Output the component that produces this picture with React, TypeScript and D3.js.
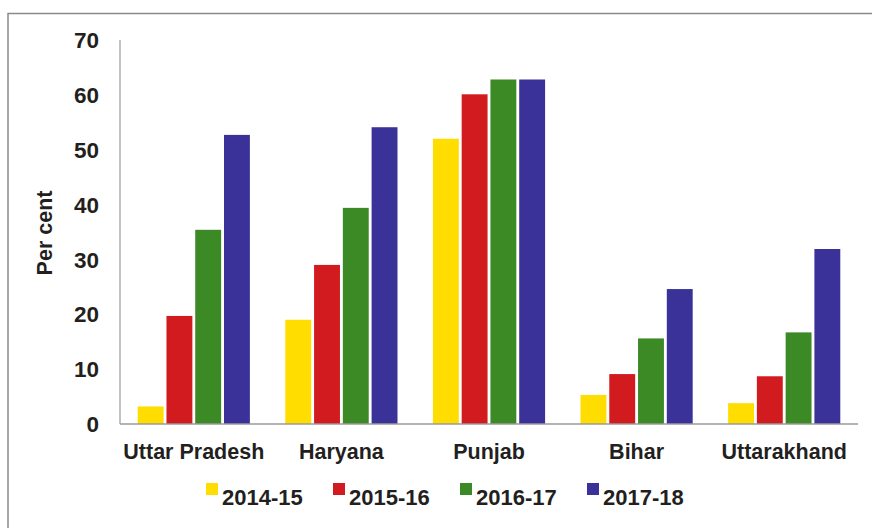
import React, { useEffect, useRef } from 'react';
import * as d3 from 'd3';

const states = ['Uttar Pradesh', 'Haryana', 'Punjab', 'Bihar', 'Uttarakhand'];
const years = ['2014-15', '2015-16', '2016-17', '2017-18'];
const colors = ['#FFDD00', '#D11B1E', '#3B8A26', '#3A3299'];

const v2014 = [3.2, 19.0, 52.0, 5.3, 3.8];
const v2015 = [19.7, 29.0, 60.1, 9.1, 8.7];
const v2016 = [35.4, 39.4, 62.8, 15.6, 16.7];
const v2017 = [52.7, 54.1, 62.8, 24.6, 31.9];
const yTicks = [0, 10, 20, 30, 40, 50, 60, 70];

const W = 872;
const H = 528;
const FONT = '"Liberation Sans", Arial, sans-serif';
const TEXT = '#231f20';

const App: React.FC = () => {
  const svgRef = useRef<SVGSVGElement>(null);

  useEffect(() => {
    if (!svgRef.current) return;
    const svg = d3.select(svgRef.current);
    svg.selectAll('*').remove();

    const series = [v2014, v2015, v2016, v2017];
    const left = 120, right = 858, top = 40, bottom = 424;

    svg.append('rect').attr('width', W).attr('height', H).attr('fill', '#fff');

    // outer frame (top and left edges show)
    svg.append('path')
      .attr('d', `M8,${H} L8,13.5 L${W},13.5`)
      .attr('fill', 'none')
      .attr('stroke', '#8a8a8a')
      .attr('stroke-width', 1.5);

    const y = d3.scaleLinear().domain([0, 70]).range([bottom, top]);
    const x0 = d3.scaleBand<string>().domain(states).range([left, right])
      .paddingInner(0.24).paddingOuter(0.12);
    const x1 = d3.scaleBand<string>().domain(years).range([0, x0.bandwidth()])
      .paddingInner(0.1).paddingOuter(0);

    // bars
    series.forEach((vals, si) => {
      svg.append('g')
        .selectAll('rect')
        .data(vals)
        .enter()
        .append('rect')
        .attr('x', (d, i) => (x0(states[i]) as number) + (x1(years[si]) as number))
        .attr('y', d => y(d))
        .attr('width', x1.bandwidth())
        .attr('height', d => bottom - y(d))
        .attr('fill', colors[si]);
    });

    // axes lines
    svg.append('line')
      .attr('x1', left).attr('x2', left).attr('y1', top).attr('y2', bottom)
      .attr('stroke', '#9a9a9a').attr('stroke-width', 1.2);
    svg.append('line')
      .attr('x1', left).attr('x2', right).attr('y1', bottom).attr('y2', bottom)
      .attr('stroke', '#9a9a9a').attr('stroke-width', 1.5);

    // y tick labels
    svg.append('g')
      .selectAll('text')
      .data(yTicks)
      .enter()
      .append('text')
      .attr('x', 99)
      .attr('y', d => y(d))
      .attr('dy', '0.36em')
      .attr('text-anchor', 'end')
      .attr('font-family', FONT)
      .attr('font-weight', 'bold')
      .attr('font-size', 22.5)
      .attr('fill', TEXT)
      .text(d => d);

    // category labels
    svg.append('g')
      .selectAll('text')
      .data(states)
      .enter()
      .append('text')
      .attr('x', d => (x0(d) as number) + x0.bandwidth() / 2)
      .attr('y', 459)
      .attr('text-anchor', 'middle')
      .attr('font-family', FONT)
      .attr('font-weight', 'bold')
      .attr('font-size', 21.5)
      .attr('fill', TEXT)
      .text(d => d);

    // y axis title
    svg.append('text')
      .attr('transform', 'translate(52,233) rotate(-90)')
      .attr('text-anchor', 'middle')
      .attr('font-family', FONT)
      .attr('font-weight', 'bold')
      .attr('font-size', 21.5)
      .attr('fill', TEXT)
      .text('Per cent');

    // legend
    const legend = svg.append('g')
      .selectAll('g')
      .data(years)
      .enter()
      .append('g')
      .attr('transform', (d, i) => `translate(${206 + i * 127},0)`);
    legend.append('rect')
      .attr('x', 0).attr('y', 483)
      .attr('width', 12).attr('height', 12)
      .attr('fill', (d, i) => colors[i]);
    legend.append('text')
      .attr('x', 16)
      .attr('y', 505)
      .attr('font-family', FONT)
      .attr('font-weight', 'bold')
      .attr('font-size', 22)
      .attr('fill', TEXT)
      .text(d => d);
  }, []);

  return (
    <div style={{ position: 'absolute', left: 0, top: 0, width: W, height: H }}>
      <svg ref={svgRef} width={W} height={H} style={{ display: 'block' }} />
    </div>
  );
};

export default App;
